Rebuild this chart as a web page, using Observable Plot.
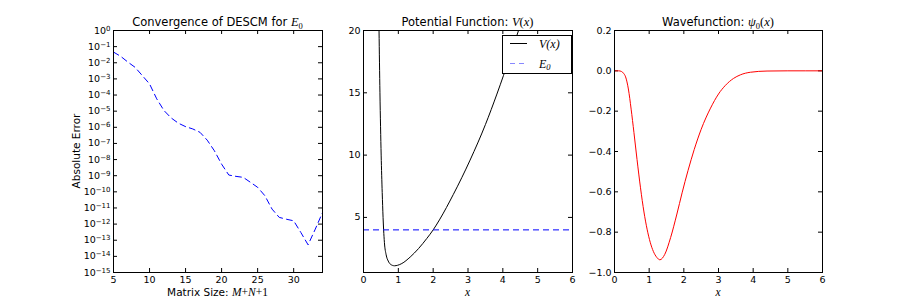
<!DOCTYPE html>
<html><head><meta charset="utf-8">
<script src="https://cdn.jsdelivr.net/npm/d3@7"></script>
<script src="https://cdn.jsdelivr.net/npm/@observablehq/plot@0.6"></script>
<style>
body{margin:0;background:#fff;}
#wrap{position:relative;width:913px;height:303px;overflow:hidden;background:#fff;}
.p{position:absolute;top:0;}
#ov{position:absolute;left:0;top:0;pointer-events:none;}
.m{font-family:"Liberation Serif","DejaVu Serif",serif;font-style:italic;}
.r{font-family:"Liberation Serif","DejaVu Serif",serif;}
</style>
</head><body>
<div id="wrap">
<div class="p" id="p1" style="left:0px"></div>
<div class="p" id="p2" style="left:330px"></div>
<div class="p" id="p3" style="left:580px"></div>
<svg id="ov" width="913" height="303">
 <g font-family="DejaVu Sans" fill="#000">
  <text x="217.5" y="26" font-size="11.5" text-anchor="middle">Convergence of DESCM for <tspan class="m" font-size="12.5">E</tspan><tspan class="r" font-size="8.5" dy="2.5">0</tspan></text>
  <text x="467.5" y="26" font-size="11.5" text-anchor="middle">Potential Function: <tspan class="m" font-size="12.5">V</tspan><tspan class="r" font-size="12.5">(</tspan><tspan class="m" font-size="12.5">x</tspan><tspan class="r" font-size="12.5">)</tspan></text>
  <text x="718" y="26" font-size="11.5" text-anchor="middle">Wavefunction: <tspan class="m" font-size="12.5">ψ</tspan><tspan class="r" font-size="8.5" dy="2.5">0</tspan><tspan class="r" font-size="12.5" dy="-2.5">(</tspan><tspan class="m" font-size="12.5">x</tspan><tspan class="r" font-size="12.5">)</tspan></text>
  <text x="217.5" y="296" font-size="10.5" text-anchor="middle">Matrix Size: <tspan class="m" font-size="11.5">M</tspan><tspan class="r" font-size="11.5">+</tspan><tspan class="m" font-size="11.5">N</tspan><tspan class="r" font-size="11.5">+1</tspan></text>
  <text transform="translate(80,151) rotate(-90)" font-size="10.5" text-anchor="middle">Absolute Error</text>
  <text x="467.5" y="296" class="m" font-size="11.5" text-anchor="middle">x</text>
  <text x="718" y="296" class="m" font-size="11.5" text-anchor="middle">x</text>
 </g>
 <g id="legend">
  <rect x="502.5" y="35.5" width="69" height="38" fill="#fff" stroke="#000" stroke-width="1"/>
  <line x1="510" x2="527" y1="43.5" y2="43.5" stroke="#000" stroke-width="1"/>
  <text x="539" y="47.5" class="m" font-size="12">V<tspan class="r">(</tspan>x<tspan class="r">)</tspan></text>
  <line x1="510" x2="527" y1="63.5" y2="63.5" stroke="#8888ff" stroke-width="1" stroke-dasharray="5,4"/>
  <text x="539" y="67.5" class="m" font-size="12">E<tspan class="r" font-size="8.5" dy="2.5">0</tspan></text>
 </g>
</svg>
</div>
<script>
// ---- Panel 1: convergence ----
const matrixSize = [5,6,7,8,9,10,11,12,13,14,15,16,17,18,19,20,21,22,23,24,25,26,27,28,29,30,31,32,33,34];
const absError = [4.6e-2,2.5e-2,1.1e-2,5.2e-3,1.6e-3,4.9e-4,5.8e-5,1.1e-5,3.8e-6,1.8e-6,1.1e-6,7.9e-7,4.9e-7,1.6e-7,3.5e-8,5.2e-9,1.1e-9,9.1e-10,7.9e-10,3.9e-10,1.9e-10,5.8e-11,8.5e-12,2.6e-12,2.0e-12,1.6e-12,3.0e-13,5.2e-14,4.9e-13,5.2e-12];
const xTicks1 = [5,10,15,20,25,30];
const logTicks = [1e0,1e-1,1e-2,1e-3,1e-4,1e-5,1e-6,1e-7,1e-8,1e-9,1e-10,1e-11,1e-12,1e-13,1e-14,1e-15];

// ---- Panel 2: potential ----
const potX = [0.446,0.472,0.507,0.537,0.562,0.578,0.60,0.65,0.71,0.77,0.89,0.98,1.10,1.34,1.58,1.82,2.0,2.18,2.58,3.06,3.50,3.83,4.02,4.45];
const potV = [20,15,10,7,5,4,3,2,1.5,1.25,1.12,1.16,1.30,1.82,2.5,3.32,4.0,4.8,6.85,9.6,12.45,14.9,16.4,20];
const E0 = 4.0;
const xTicks2 = [0,1,2,3,4,5,6];
const yTicks2 = [5,10,15,20];

// ---- Panel 3: wavefunction ----
const psiX = [0,0.12,0.2,0.26,0.32,0.4,0.48,0.56,0.65,0.75,0.85,0.94,1.03,1.12,1.22,1.31,1.45,1.62,1.8,1.95,2.12,2.3,2.5,2.77,3.0,3.2,3.43,3.63,3.92,4.4,5.0,6.0];
const psiY = [0,0,-0.003,-0.012,-0.03,-0.09,-0.19,-0.305,-0.44,-0.58,-0.70,-0.785,-0.85,-0.895,-0.925,-0.937,-0.91,-0.826,-0.71,-0.605,-0.495,-0.39,-0.29,-0.185,-0.115,-0.072,-0.038,-0.02,-0.007,-0.001,0,0];
const xTicks3 = [0,1,2,3,4,5,6];
const yTicks3 = [0.2,0.0,-0.2,-0.4,-0.6,-0.8,-1.0];

const H = 303, MT = 30, MB = 31, FH = H - MT - MB, TL = 4;
const style = {fontFamily: "DejaVu Sans", fontSize: "9.5px", background: "transparent", color: "#000"};
const intFmt = d => String(d);

function inwardTicks(xt, yt, FW) {
  return [
    Plot.tickX(xt, {x: d => d, insetTop: FH - TL, stroke: "#000"}),
    Plot.tickX(xt, {x: d => d, insetBottom: FH - TL, stroke: "#000"}),
    Plot.tickY(yt, {y: d => d, insetRight: FW - TL, stroke: "#000"}),
    Plot.tickY(yt, {y: d => d, insetLeft: FW - TL, stroke: "#000"})
  ];
}

const p1 = Plot.plot({
  width: 330, height: H, marginLeft: 113, marginRight: 8, marginTop: MT, marginBottom: MB,
  style,
  x: {domain: [5, 34]},
  y: {type: "log", domain: [1e-15, 1]},
  marks: [
    Plot.axisX({ticks: xTicks1, tickSize: 0, tickPadding: 4, label: null, tickFormat: intFmt}),
    Plot.axisY({ticks: logTicks, tickSize: 0, tickPadding: 3, label: null, tickFormat: d => "10|" + Math.round(Math.log10(d))}),
    ...inwardTicks(xTicks1, logTicks, 209),
    Plot.line(absError, {x: matrixSize, y: absError, stroke: "#0000ff", strokeWidth: 1, strokeDasharray: "6,4"}),
    Plot.frame({stroke: "#000"})
  ]
});
// render power-of-ten labels as 10 with a raised exponent
d3.select(p1).selectAll('g[aria-label="y-axis tick label"] text').each(function() {
  const parts = this.textContent.split("|");
  if (parts.length !== 2) return;
  const sel = d3.select(this);
  sel.text(parts[0]);
  sel.append("tspan").attr("dy", "-0.42em").attr("font-size", "7px").text(parts[1].replace("-", "−"));
});
document.getElementById("p1").append(p1);

const p2 = Plot.plot({
  width: 250, height: H, marginLeft: 33, marginRight: 8, marginTop: MT, marginBottom: MB,
  style,
  x: {domain: [0, 6]},
  y: {domain: [0.58, 20]},
  marks: [
    Plot.axisX({ticks: xTicks2, tickSize: 0, tickPadding: 4, label: null, tickFormat: intFmt}),
    Plot.axisY({ticks: yTicks2, tickSize: 0, tickPadding: 3, label: null, tickFormat: intFmt}),
    ...inwardTicks(xTicks2, yTicks2, 209),
    Plot.line(potV, {x: potX, y: potV, stroke: "#000", strokeWidth: 1, curve: "monotone-x", clip: true}),
    Plot.ruleY([E0], {stroke: "#0000ff", strokeWidth: 1, strokeDasharray: "6,4"}),
    Plot.frame({stroke: "#000"})
  ]
});
document.getElementById("p2").append(p2);

const p3 = Plot.plot({
  width: 333, height: H, marginLeft: 34, marginRight: 91, marginTop: MT, marginBottom: MB,
  style,
  x: {domain: [0, 6]},
  y: {domain: [-1, 0.2]},
  marks: [
    Plot.axisX({ticks: xTicks3, tickSize: 0, tickPadding: 4, label: null, tickFormat: intFmt}),
    Plot.axisY({ticks: yTicks3, tickSize: 0, tickPadding: 3, label: null, tickFormat: d3.format(".1f")}),
    ...inwardTicks(xTicks3, yTicks3, 208),
    Plot.line(psiY, {x: psiX, y: psiY, stroke: "#ff0000", strokeWidth: 1, curve: "monotone-x"}),
    Plot.frame({stroke: "#000"})
  ]
});
document.getElementById("p3").append(p3);
</script>
</body></html>
